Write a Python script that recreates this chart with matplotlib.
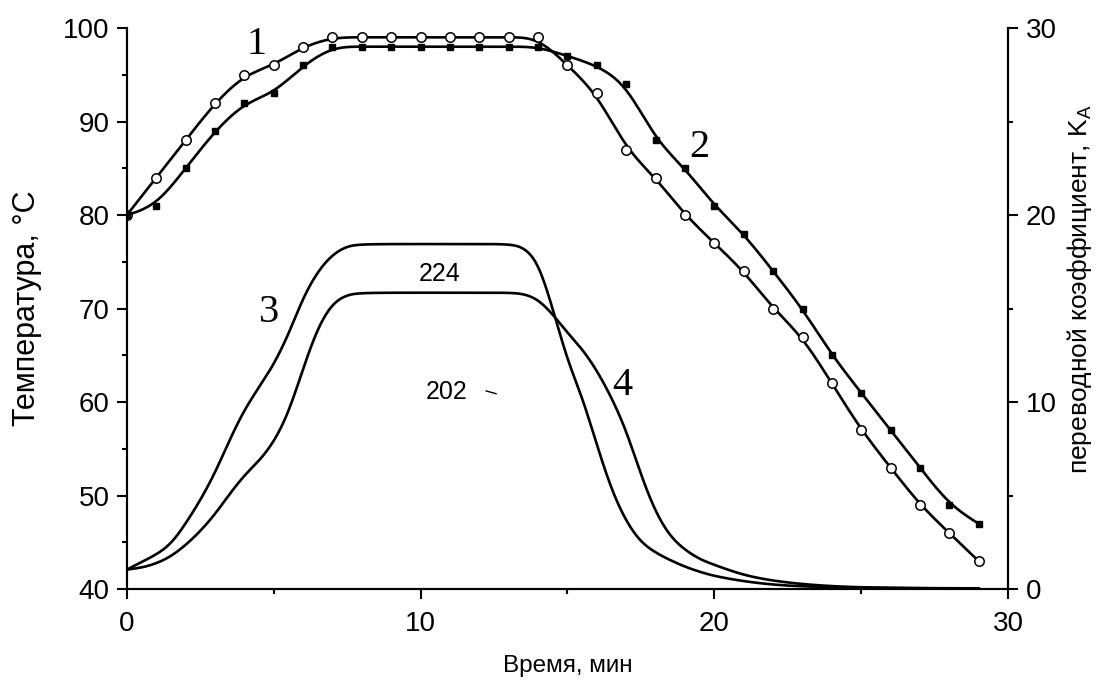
import matplotlib
matplotlib.use('Agg')
import matplotlib.pyplot as plt
import numpy as np
from matplotlib.ticker import MultipleLocator

plt.rcParams['font.family'] = ['Liberation Sans', 'DejaVu Sans']
plt.rcParams['mathtext.fontset'] = 'custom'
plt.rcParams['mathtext.rm'] = 'Liberation Sans'

# temperature, curves 1 (circles) and 2 (squares)
minutes = list(range(30))
temp_1 = [80, 84, 88, 92, 95, 96, 98, 99, 99, 99, 99, 99, 99, 99, 99,
          96, 93, 87, 84, 80, 77, 74, 70, 67, 62, 57, 53, 49, 46, 43]
temp_2 = [80, 81, 85, 89, 92, 93, 96, 98, 98, 98, 98, 98, 98, 98, 98,
          97, 96, 94, 88, 85, 81, 78, 74, 70, 65, 61, 57, 53, 49, 47]

# transfer coefficient K_A, curves 3 and 4 (right axis)
k_time = [0, 0.5, 1, 1.5, 2, 2.5, 3, 3.5, 4, 4.5, 5, 5.5, 6, 6.5, 7, 7.5, 8,
          10, 12, 13, 13.5, 14, 14.5, 15, 15.5, 16, 16.5, 17, 17.5, 18, 18.5,
          19, 19.5, 20, 21, 22, 23, 24, 25, 26, 27, 28, 29]
k_3 = [1.05, 1.45, 1.85, 2.4, 3.5, 4.75, 6.2, 8.0, 9.6, 10.8, 12.0, 13.6, 15.6,
       17.0, 17.9, 18.35, 18.45, 18.45, 18.45, 18.45, 18.3, 17.5, 15.0, 12.2,
       10.3, 7.7, 5.3, 3.6, 2.5, 1.95, 1.55, 1.2, 0.93, 0.7, 0.42, 0.24, 0.15,
       0.11, 0.08, 0.06, 0.05, 0.05, 0.05]
k_4 = [1.05, 1.15, 1.37, 1.75, 2.35, 3.1, 4.0, 5.1, 6.1, 6.85, 7.85, 9.4, 11.8,
       14.0, 15.3, 15.75, 15.85, 15.85, 15.85, 15.85, 15.8, 15.5, 14.7, 13.7,
       12.85, 11.7, 10.25, 8.5, 6.1, 4.1, 2.8, 2.1, 1.6, 1.3, 0.74, 0.45, 0.27,
       0.16, 0.1, 0.08, 0.06, 0.05, 0.05]


def smooth(x, y, n=16):
    # uniform cubic b-spline with the points as control points (drawing only)
    p = np.column_stack([x, y]).astype(float)
    p = np.vstack([p[0], p[0], p, p[-1], p[-1]])
    t = np.linspace(0, 1, n, endpoint=False)[:, None]
    b0 = (1 - t) ** 3 / 6
    b1 = (3 * t ** 3 - 6 * t ** 2 + 4) / 6
    b2 = (-3 * t ** 3 + 3 * t ** 2 + 3 * t + 1) / 6
    b3 = t ** 3 / 6
    out = []
    for i in range(len(p) - 3):
        out.append(b0 * p[i] + b1 * p[i + 1] + b2 * p[i + 2] + b3 * p[i + 3])
    out.append(p[-1][None])
    res = np.vstack(out)
    return res[:, 0], res[:, 1]


fig = plt.figure(figsize=(11.03, 6.82), dpi=100)
ax = fig.add_axes([0.115, 0.136, 0.799, 0.823])
ax2 = ax.twinx()

lw = 1.9
ax.plot(*smooth(minutes, temp_1), color='black', lw=lw)
ax.plot(minutes, temp_1, 'o', ms=6.8, mfc='white', mec='black', mew=1.1)
ax.plot(*smooth(minutes, temp_2), color='black', lw=lw)
ax.plot(minutes, temp_2, 's', ms=3.8, color='black')

ax2.plot(*smooth(k_time, k_3), color='black', lw=lw)
ax2.plot(*smooth(k_time, k_4), color='black', lw=lw)

ax.set_xlim(0, 30)
ax.set_ylim(40, 100)
ax2.set_ylim(0, 30)

for a in (ax, ax2):
    a.spines['top'].set_visible(False)
    for s in a.spines.values():
        s.set_linewidth(1.5)
    a.tick_params(which='major', direction='out', length=7.5, width=1.5,
                  labelsize=20, pad=5)
    a.tick_params(which='minor', direction='out', length=3.8, width=1.5)
ax.tick_params(axis='x', which='major', pad=8)

ax.xaxis.set_major_locator(MultipleLocator(10))
ax.xaxis.set_minor_locator(MultipleLocator(5))
ax.yaxis.set_major_locator(MultipleLocator(10))
ax.yaxis.set_minor_locator(MultipleLocator(5))
ax2.yaxis.set_major_locator(MultipleLocator(10))
ax2.yaxis.set_minor_locator(MultipleLocator(5))

ax.set_xlabel('Время, мин', fontsize=17.5, labelpad=13)
ax.set_ylabel('Температура, °С', fontsize=22, labelpad=15)
ax2.set_ylabel('переводной коэффициент, K$_{\\mathregular{A}}$', fontsize=19, labelpad=6)
ax2.yaxis.label.set_y(0.535)

serif = dict(family='Liberation Serif', fontsize=29, ha='center', va='center')
ax.text(4.4, 98.2, '1', **serif)
ax.text(19.5, 87.2, '2', **serif)
ax.text(4.85, 69.6, '3', **serif)
ax.text(16.85, 61.8, '4', **serif)
ax.text(10.65, 73.7, '224', fontsize=18, ha='center', va='center')
ax.text(10.9, 61.1, '202', fontsize=18, ha='center', va='center')
ax.plot([12.23, 12.57], [61.2, 60.9], color='black', lw=1)

fig.savefig('out.png', dpi=100)
